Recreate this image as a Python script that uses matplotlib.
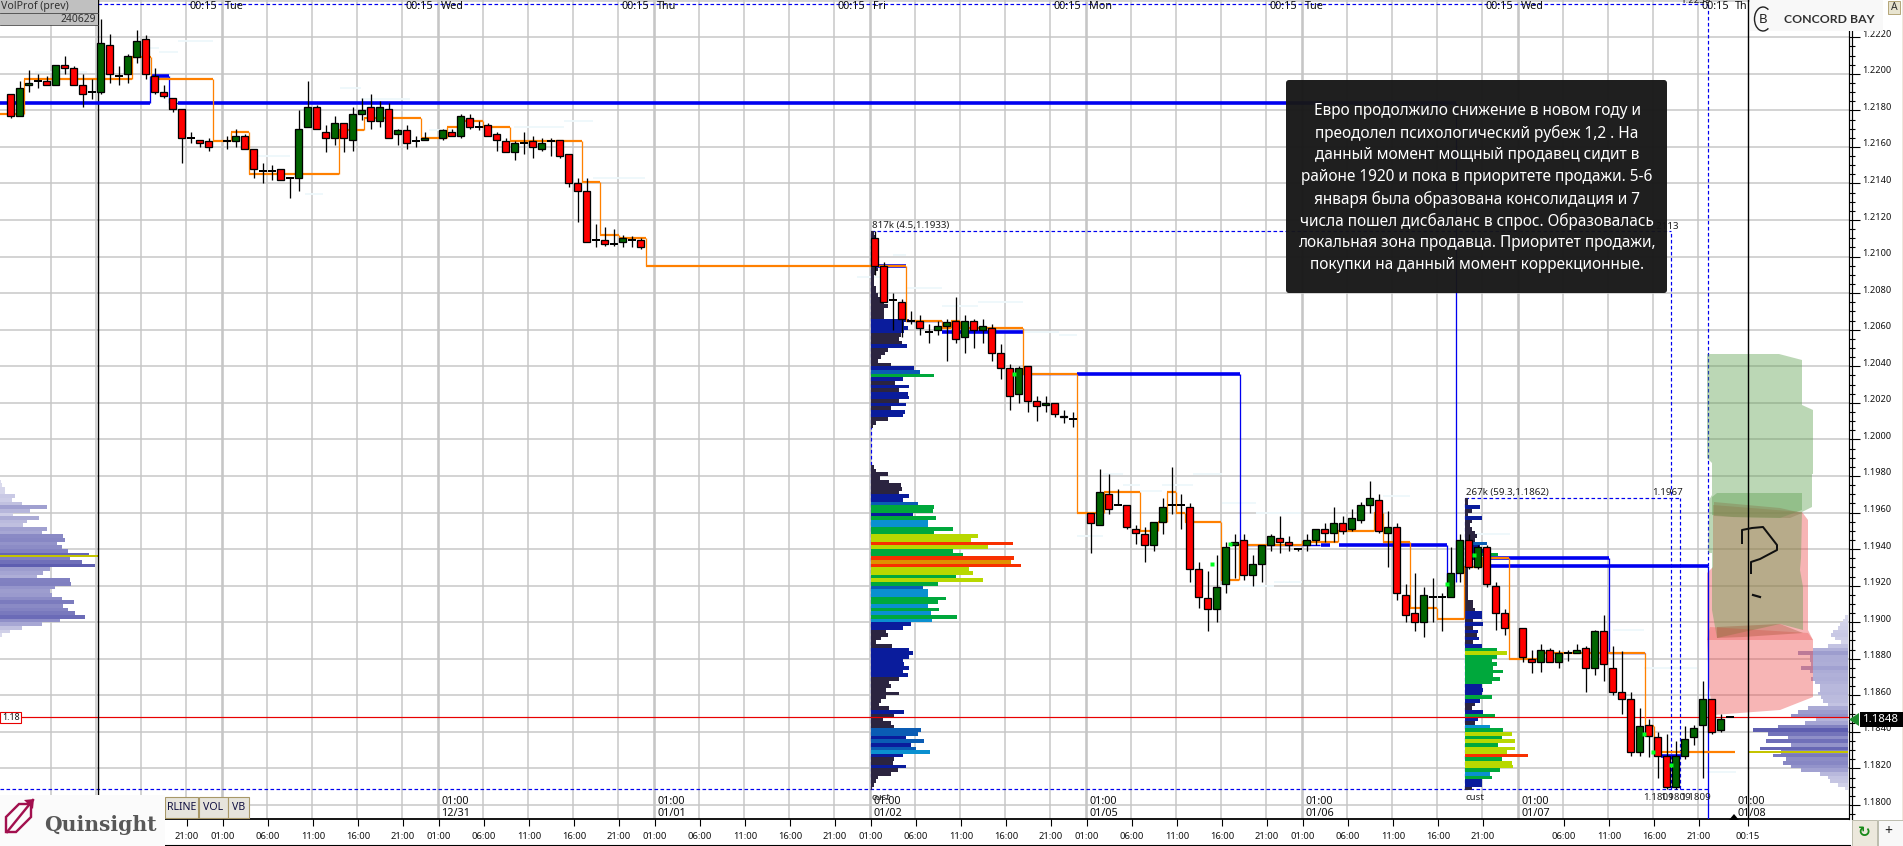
import numpy as np
import matplotlib
matplotlib.use("Agg")
import matplotlib.pyplot as plt
from matplotlib.patches import Polygon, Rectangle, FancyBboxPatch, Arc
from matplotlib.lines import Line2D
from matplotlib.transforms import Affine2D, ScaledTranslation
from matplotlib.ticker import FixedLocator, NullFormatter
from matplotlib.colors import LinearSegmentedColormap

plt.rcParams['font.family'] = ['Noto Sans', 'DejaVu Sans']

# ---------- data: hourly candles (open, high, low, close) in 1/10000 of a price point ----------
session_a_start = 0
session_a = [
 (12189,12189,12176,12177),(12177,12196,12177,12192),(12194,12202,12190,12195),(12196,12200,12192,12196),
 (12196,12199,12194,12194),(12194,12205,12194,12205),(12205,12210,12200,12203),(12203,12204,12194,12194),
 (12194,12200,12182,12189),(12190,12197,12186,12190),(12190,12230,12189,12217),(12216,12222,12195,12200),
 (12199,12204,12194,12199),(12200,12211,12195,12210),(12209,12224,12206,12218),(12219,12221,12197,12200),
 (12199,12203,12189,12190),(12190,12194,12187,12188),(12187,12187,12179,12181),(12181,12181,12151,12165),
 (12165,12168,12162,12165),(12164,12164,12160,12162),(12163,12165,12158,12160),None,
 (12163,12166,12159,12163),(12163,12170,12160,12166),(12166,12167,12159,12159),(12159,12159,12143,12148),
 (12147,12151,12140,12147),(12147,12150,12142,12147),(12148,12148,12142,12142),(12143,12143,12132,12143),
 (12143,12180,12136,12170),(12171,12196,12171,12182),(12182,12183,12170,12170),(12168,12172,12157,12165),
 (12165,12177,12161,12173),(12173,12173,12157,12165),(12164,12182,12158,12178),(12178,12187,12175,12180),
 (12182,12189,12170,12174),(12174,12185,12171,12182),(12181,12184,12165,12165),(12167,12170,12161,12169),
 (12169,12172,12159,12162),(12163,12166,12160,12163),(12164,12168,12164,12165),None,
 (12165,12170,12164,12169),(12168,12170,12166,12166),(12166,12178,12165,12177),(12176,12178,12170,12171),
 (12171,12174,12169,12171),(12172,12173,12166,12166),(12167,12168,12158,12164),(12163,12165,12157,12157),
 (12157,12163,12153,12162),(12162,12168,12156,12162),(12163,12166,12154,12160),(12159,12165,12158,12162),
 (12163,12165,12155,12163),(12164,12164,12154,12155),(12156,12156,12138,12140),(12140,12143,12119,12136),
 (12136,12143,12108,12108),(12109,12118,12105,12109),(12109,12116,12106,12107),(12107,12115,12106,12107),
 (12108,12112,12105,12110),(12109,12111,12105,12109),(12109,12110,12104,12105),
]
session_b_start = 96
session_b = [
 (12110,12114,12090,12095),(12095,12097,12075,12075),(12076,12080,12060,12076),(12075,12077,12056,12066),
 (12065,12070,12063,12065),(12065,12068,12057,12061),(12059,12063,12053,12059),(12060,12065,12057,12062),
 (12062,12066,12043,12064),(12065,12078,12053,12055),(12056,12068,12047,12065),(12065,12066,12050,12060),
 (12060,12066,12053,12062),(12061,12063,12043,12047),(12047,12052,12033,12039),(12039,12041,12016,12024),
 (12025,12040,12020,12039),(12040,12040,12015,12021),(12021,12024,12010,12018),(12019,12024,12015,12020),
 (12020,12020,12012,12014),(12013,12016,12009,12012),(12011,12015,12007,12011),
]
session_c_start = 120
session_c = [
 (11960,11960,11938,11954),(11953,11984,11953,11971),(11970,11981,11959,11962),(11964,11973,11964,11964),
 (11964,11964,11951,11952),(11951,11953,11943,11949),(11948,11952,11933,11942),(11942,11955,11939,11955),
 (11955,11968,11948,11963),(11964,11985,11959,11964),(11964,11970,11951,11964),(11963,11965,11922,11929),
 (11929,11933,11908,11914),(11913,11928,11895,11907),(11907,11937,11900,11919),(11921,11944,11916,11941),
 (11942,11948,11924,11944),(11945,11948,11923,11926),(11926,11937,11920,11932),(11932,11942,11922,11942),
 (11942,11948,11939,11947),(11946,11958,11938,11944),(11944,11947,11939,11942),(11940,11940,11939,11940),
 (11942,11948,11939,11945),(11945,11951,11942,11951),(11951,11954,11944,11949),(11949,11963,11944,11954),
 (11954,11958,11948,11950),(11951,11962,11950,11957),(11956,11966,11954,11964),(11964,11977,11960,11968),
 (11967,11970,11949,11950),(11949,11961,11930,11952),(11952,11954,11912,11916),(11915,11921,11900,11904),
 (11905,11927,11895,11900),(11900,11919,11892,11915),(11914,11924,11900,11914),(11914,11916,11895,11914),
 (11914,11941,11914,11927),(11927,11948,11922,11945),(11945,11948,11929,11930),(11930,11942,11929,11941),
 (11941,11942,11919,11921),(11920,11922,11896,11905),(11905,11907,11893,11897),
]
session_d_start = 168
session_d = [
 (11897,11897,11878,11881),(11880,11885,11872,11878),(11878,11888,11873,11885),(11885,11886,11878,11878),
 (11878,11885,11875,11883),(11883,11885,11879,11883),(11883,11888,11883,11885),(11886,11887,11862,11875),
 (11875,11896,11871,11895),(11895,11904,11868,11877),(11875,11887,11860,11862),(11862,11884,11850,11858),
 (11858,11862,11827,11829),(11829,11853,11827,11843),(11844,11847,11826,11838),(11837,11840,11815,11827),
 (11827,11839,11809,11810),(11810,11835,11809,11827),(11827,11843,11825,11836),(11837,11844,11833,11842),
 (11844,11868,11815,11858),(11858,11858,11839,11840),(11841,11850,11840,11847),(11848,11848,11848,11848),
]

# developing point-of-control step line: bar index where each level begins, and its price
poc_breaks = [-1.2,1.5,13.5,15.6,22.5,24.5,26.5,36.5,39.2,45.6,48.5,50,52.5,55.5,63.5,65.5,67.6,70.6,99.5,
              103.5,104.5,105.5,112.5,118.5,121.5,125.5,127.5,128.5,129.5,130.5,134.5,136.5,143.5,147.5,
              151.5,152.5,155.5,158.5,161.5,163.5,166.5,170,181.6,182.6,191.6]
poc_levels = [12178,12197,12209,12197,12163,12168,12145,12169,12176,12165,12171,12174,12171,12163,12141,
              12112,12110,12095,12065,12061,12065,12061,12036,11960,11971,11950,11955,11971,11960,11955,
              11923,11942,11944,11950,11960,11944,11908,11902,11930,11935,11880,11883,11843,11829]

# naked POC levels: (start bar, end bar, price, heavy?)
naked_levels = [
 (-1.2,15.5,12184,1),(15.6,17.6,12199,1),(17.6,18.6,12184,0),(18.6,160.6,12184,1),
 (96,99.5,12095,1),(99.5,103.5,12065,0),(103.5,112.5,12059,1),(112.5,118.5,12036,0),(118.5,136.6,12036,1),
 (137.3,145.5,11942,0),(145.6,146.6,11942,1),(147.6,159.6,11942,1),
 (164.3,177.6,11935,1),(177.6,181.6,11883,0),(164.3,188.6,11931,1),(183.4,185.6,11827,1),
]
naked_drops = [(15.5,12184,12199),(17.6,12199,12184),(160.6,12184,11922),(136.6,12036,11943),
               (159.6,11942,11921),(177.6,11935,11883),(188.6,11931,11792)]

# faint band segments: (start bar, end bar, price)
band_segments = [
 (2.7,8.5,12201),(15.4,16.5,12214),(16.5,18.6,12212),(18.6,22.5,12218),(27.4,31,12155),(32.7,34.7,12134),
 (36.6,38.9,12192),(38.9,44.4,12186),(46.5,49,12169),(55.9,61.5,12171),(61.5,64.7,12174),(64.7,70.5,12143),
 (94,97,12089),(98,99.5,12101),(99.5,103.5,12083),(103.5,107.5,12073),(107.5,112.5,12075),(112.5,116.5,12059),
 (116.5,118.5,12057),(118.5,121.4,11947),(121.4,123.6,11981),(123.6,125.5,11975),(125.5,127.9,11972),
 (127.9,131.4,11975),(131.4,134.6,11981),(134.6,138.4,11965),(138.4,143.4,11960),(134.4,140.3,11920),
 (140.3,143.5,11922),(152.5,155.5,11969),(162.5,166.6,11948),(178,181.5,11896),(181.5,187.4,11875),(188.5,191.7,11818),
]

# volume profiles: top price of first row, 2-point rows downward, volume units
prof1a_top = 12113
prof1a = [10,12,12,8,8,10,10,8,12,18,20,15,8,8,10,15,15,22,30,38,50,40,38,40,115,100,110,100,90,85,92,108,52,42,30,22,
          60,130,148,190,95,72,115,85,110,115,85,105,60,102,95,50,15,5]
prof1b_top = 11985
prof1b = [8,15,50,28,55,90,92,85,115,95,140,190,185,125,195,170,170,245,190,320,300,425,350,245,275,430,420,450,295,305,
          255,335,200,155,170,170,225,200,170,205,180,258,183,120,95,45,50,30,15,62,115,125,115,95,100,115,95,112,85,55,
          60,45,85,45,30,25,55,98,70,35,60,70,150,140,105,160,120,135,178,95,70,65,105,80,60,20,15,8,3]
prof2_top = 11967
prof2 = [10,10,45,20,10,50,20,15,20,30,35,30,65,45,55,100,40,15,10,10,8,8,8,8,8,8,8,8,25,25,30,50,50,25,55,25,40,35,42,25,
         50,95,125,95,80,95,85,115,85,105,80,50,55,50,80,45,30,20,55,90,40,30,75,115,140,110,150,100,150,125,190,110,140,
         145,105,75,80,50,50,20]
prev_top = 11977
prev_profile = [2,5,15,15,45,35,65,142,90,40,118,82,70,142,125,190,195,170,185,205,268,210,245,285,150,130,110,210,212,
                165,150,155,185,222,190,205,225,255,180,125,65,30,5]
cur_top = 11903
cur_profile = [10,15,25,30,45,50,40,20,60,105,150,115,115,110,140,115,105,110,100,85,85,90,80,75,60,120,150,170,95,130,
               210,285,240,180,245,170,265,200,225,185,195,170,140,85,60,55,30,10]
prev_poc = 11936
cur_poc = 11829

# small imbalance markers (bar, price)
marks_bar = [111.5,133.5,135.5,159.6,162.6,181.5,182.5,184.5]
marks_price = [12036,11932,11943,11921,11937,11839,11829,11822]

last_price = 11848
price_ticks = list(range(11800, 12221, 20))
day_dates = ['12/31','01/01','01/02','01/05','01/06','01/07','01/08']
hours = ['01:00','06:00','11:00','16:00','21:00']

note_lines = ["Евро продолжило снижение в новом году и",
              "преодолел психологический рубеж 1,2 . На",
              "данный момент мощный продавец сидит в",
              "районе 1920 и пока в приоритете продажи. 5-6",
              "января была образована консолидация и 7",
              "числа пошел дисбаланс в спрос. Образовалась",
              "локальная зона продавца. Приоритет продажи,",
              "покупки на данный момент коррекционные."]

# ---------- layout ----------
W, H = 1903, 846
BAR0, BARW = 10.8, 9.0
PX_PER_PT = 18280 / 1e4   # pixels per 1/10000
def idx(px): return (px - BAR0) / BARW
def yp(y): return 11800 + (805 - y) / PX_PER_PT

PX = Affine2D().scale(1, -1).translate(0, H)   # figure pixels, y down
px = 0.72  # one pixel in points at dpi 100

fig = plt.figure(figsize=(W/100, H/100), dpi=100, facecolor='white')
ax = fig.add_axes([0, (H-819)/H, 1849/W, 819/H])
ax.set_xlim(idx(0), idx(1849))
ax.set_ylim(yp(819), yp(0))
ax.set_facecolor('white')

GRID = '#c6c6c6'
for p in list(range(11800, 12241, 20)):
    ax.axhline(p, color=GRID, lw=1.5*px, zorder=1)
for T in [6+216*k for k in range(8)]:
    if T > 6:
        ax.axvline(idx(T), color=GRID, lw=2.6*px, zorder=1)
    for d in (45, 90, 135, 180):
        if T + d < 1849:
            ax.axvline(idx(T+d), color=GRID, lw=1.5*px, zorder=1)

# faint bands
for a, b, p in band_segments:
    ax.hlines(p, a, b, color='#eef8fb', lw=1.8*px, zorder=1.5)

# dashed frames
dash = (0, (3, 2))
BL = '#0000f0'
for a, b, p in [(idx(98),188.6,12238),(idx(0),188.6,11809),(95.6,184.5,12114),(161.6,185.5,11968)]:
    ax.hlines(p, a, b, color=BL, lw=px*1.2, linestyles=[dash], zorder=2)
for x, a, b in [(188.6,12238,11931),(95.6,12114,11809),(184.5,12114,11809),(161.6,11968,11809),(185.5,11968,11809)]:
    ax.vlines(x, b, a, color=BL, lw=px*1.2, linestyles=[dash], zorder=2)

# profiles
steps = [0.21,0.29,0.36,0.41,0.63,0.87,0.94]
cols = ['#2b2440','#0a1c9c','#0a5cb4','#0a90d0','#00a83c','#b8d800','#e09000','#f83000']
def heat(v, vmax):
    r = v / vmax
    for s, c in zip(steps, cols):
        if r < s:
            return c
    return cols[-1]
unit = 1 / 3 / BARW
def draw_heat(top, vols, left, vmax):
    ys = top - 2*np.arange(len(vols))
    ax.barh(ys, np.array(vols)*unit, left=left, height=2.0, color=[heat(v, vmax) for v in vols],
            edgecolor='none', zorder=3)
draw_heat(prof1a_top, prof1a, idx(871), 450)
draw_heat(prof1b_top, prof1b, idx(871), 450)
draw_heat(prof2_top, prof2, idx(1465), 190)

lav = LinearSegmentedColormap.from_list('lav', ['#dcdcee', '#a0a0d0', '#5e5eb0'])
def draw_lav(top, vols, left, sign):
    ys = top - 2*np.arange(len(vols))
    v = np.array(vols, float)
    ax.barh(ys, sign*v*unit, left=left, height=2.0, color=lav(v/v.max()), edgecolor='none', zorder=3)
draw_lav(prev_top, prev_profile, idx(0), 1)

# painted zones (pink, then green above it), drawn under the candles
def zone(points, color, alpha, z=3.5):
    ax.add_patch(Polygon(points, closed=True, transform=PX, facecolor=color, edgecolor='none', alpha=alpha, zorder=z))
zone([(1713,505),(1802,512),(1808,520),(1808,630),(1813,640),(1813,697),(1780,710),(1713,715),(1709,687),(1707,640),
      (1707,573),(1713,567)], (235/255,70/255,70/255), 0.40)
draw_lav(cur_top, cur_profile, idx(1848), -1)
ax.hlines(prev_poc, idx(0), idx(98), color='#c4c400', lw=2*px, zorder=3.6)
ax.hlines(cur_poc, idx(1749), idx(1848), color='#c4c400', lw=2*px, zorder=3.6)
zone([(1707,354),(1779,354),(1802,360),(1802,405),(1813,410),(1813,474),(1812,474),(1812,507),(1802,512),(1801,558),
      (1800,570),(1803,587),(1803,630),(1780,624),(1717,638),(1712,610),(1712,553),(1708,553),(1709,513),(1709,500),
      (1712,495),(1712,463),(1707,458)], (92/255,158/255,77/255), 0.41)
zone([(1712,497),(1717,493),(1802,493),(1802,510),(1780,518),(1733,517),(1712,515)], (92/255,158/255,77/255), 0.41)
zone([(1714,502),(1747,505),(1780,508),(1802,513),(1790,518),(1733,517),(1714,516)], '#8a7a50', 0.40)
zone([(1710,627),(1808,633),(1813,640),(1707,640)], (235/255,70/255,70/255), 0.30)
zone([(1717,627),(1780,624),(1803,633),(1743,637),(1717,638)], '#a05030', 0.35)

# price line
ax.axhline(last_price, color='#e80000', lw=1.2*px, zorder=3.8)

# vertical session markers
for x in (98, 1748):
    ax.axvline(idx(x), color='black', lw=1.4*px, zorder=3.9)

# naked levels
for a, b, p, heavy in naked_levels:
    ax.hlines(p, a, b, color='#0000f0', lw=(3.6 if heavy else 1.4)*px, zorder=4)
for x, a, b in naked_drops:
    ax.vlines(x, min(a, b), max(a, b), color='#0000f0', lw=1.3*px, zorder=4)

# POC step line: heavy levels, light risers
ob = np.array(poc_breaks); ol = np.array(poc_levels)
ax.hlines(ol, ob[:-1], ob[1:], color='#ff8000', lw=2.2*px, zorder=4.2)
ax.vlines(ob[1:-1], np.minimum(ol[:-1], ol[1:]), np.maximum(ol[:-1], ol[1:]), color='#ff8000', lw=1.3*px, zorder=4.2)

# candles
def draw_candles(start, rows):
    for i, row in enumerate(rows):
        if row is None:
            continue
        o, h, l, c = row
        x = start + i
        ax.vlines(x, l, h, color='black', lw=1.3*px, zorder=5)
        if o == c:
            ax.hlines(c, x-0.42, x+0.42, color='black', lw=2.0*px, zorder=5.2)
        else:
            ax.bar(x, abs(c-o), bottom=min(o, c), width=0.78, color='#ff0000' if c < o else '#006400',
                   edgecolor='black', linewidth=1.3*px, zorder=5.1)
for s, rows in [(session_a_start, session_a), (session_b_start, session_b),
                (session_c_start, session_c), (session_d_start, session_d)]:
    draw_candles(s, rows)
ax.plot(marks_bar, marks_price, ls='none', marker='s', ms=3.2, color='#00ff20', mec='none', zorder=5.5)

# scribbled question mark
scribble = [(1742,543),(1742,530),(1752,528),(1763,527),(1777,545),(1777,550),(1760,559),(1751,562),(1751,573)]
ax.add_line(Line2D(*zip(*scribble), transform=PX, color='#101010', lw=2.0*px, zorder=6))
ax.add_line(Line2D([1753,1760],[595,597], transform=PX, color='#101010', lw=2.2*px, zorder=6))

# axes furniture
ax.yaxis.tick_right()
ax.set_yticks(price_ticks)
ax.set_yticklabels([f"{p/1e4:.4f}" for p in price_ticks], fontsize=6.6, color='#101010')
ax.yaxis.set_minor_locator(FixedLocator(list(range(11790, 12241, 5))))
ax.yaxis.set_minor_formatter(NullFormatter())
ax.tick_params(axis='y', which='major', length=11*px, width=1.1*px, pad=1.5, color='black')
ax.tick_params(axis='y', which='minor', length=6*px, width=1.1*px, color='black')
off = ScaledTranslation(0, 4/100, fig.dpi_scale_trans)
for lab in ax.get_yticklabels():
    lab.set_transform(lab.get_transform() + off)

tick_pos, tick_lab = [], []
for k, T in enumerate([7+216*j for j in range(8)]):
    for h_, d in zip(hours, (0, 45, 90, 135, 180)):
        if T + d < 150 or (k == 7 and d == 0):
            continue            # hidden below the logo, or replaced by the 00:15 session tick
        if T + d < 1845:
            tick_pos.append(idx(T+d)); tick_lab.append(h_)
tick_pos.append(idx(1748)); tick_lab.append('00:15')
ax.set_xticks(tick_pos)
ax.set_xticklabels(tick_lab, fontsize=6.8, color='#101010')
ax.tick_params(axis='x', length=7*px, width=1.1*px, pad=4.5, color='black')
for s in ('top', 'left'):
    ax.spines[s].set_visible(False)
ax.spines['right'].set_linewidth(1.2*px)
ax.spines['bottom'].set_linewidth(1.8*px)

# ---------- chrome in pixel coordinates ----------
def ptext(x, y, s, **kw):
    kw.setdefault('va', 'center'); kw.setdefault('ha', 'left'); kw.setdefault('fontsize', 7.8)
    return fig.text(x, y, s, transform=PX, **kw)
def prect(x0, y0, x1, y1, z=4, **kw):
    r = Rectangle((x0, y0), x1-x0, y1-y0, transform=PX, zorder=z, **kw)
    fig.add_artist(r)
    return r

# second axis line and bottom frame
fig.add_artist(Line2D([1851.5,1851.5],[0,819], transform=PX, color='black', lw=1.2*px))
fig.add_artist(Line2D([137,1850],[845,845], transform=PX, color='black', lw=1.1*px))
fig.add_artist(Line2D([1902.5,1902.5],[0,846], transform=PX, color='#b08858', lw=1.4*px))

# top labels
for x, d in zip((190,405.5,622,838,1054,1270,1486,1702), ('Tue','Wed','Thu','Fri','Mon','Tue','Wed','Thu')):
    ptext(x, 6.5, '00:15', color='#101010')
    if d == 'Thu' and x > 1700:
        ptext(x+33, 6.5, 'Th', color='#101010')
    else:
        ptext(x+35, 6.5, d, color='#101010')
# date labels
for T, d in zip((438,654,870,1086,1302,1518,1734), day_dates):
    ptext(T+3, 801, '01:00', fontsize=7.8, color='#101010')
    ptext(T+3, 813, d, fontsize=7.8, color='#101010')

# profile notes
ptext(872, 225.5, '817k (4.5,1.1933)', fontsize=7.0, color='#202020')
ptext(1466, 492, '267k (59.3,1.1862)', fontsize=7.0, color='#202020')
ptext(1652, 492, '1.1967', fontsize=7.0, color='#202020')
ptext(1466, 797, 'cust', fontsize=7.0, color='#202020')
ptext(872, 797, 'cust', fontsize=7.0, color='#202020')
for x in (1643, 1660, 1680):
    ptext(x, 797, '1.1809', fontsize=7.0, color='#202020')
ptext(1648, 226, '1.2113', fontsize=7.0, color='#202020', zorder=1)
ptext(1680, 0, '1.2239', fontsize=7.0, color='#202020', zorder=1)

# top-left widget
prect(0, 0, 98, 25, facecolor='#c0c0c0', edgecolor='none')
fig.add_artist(Line2D([0,98],[12.7,12.7], transform=PX, color='#404040', lw=0.8*px, zorder=4.5))
fig.add_artist(Line2D([0,98],[25,25], transform=PX, color='#404040', lw=0.8*px, zorder=4.5))
ptext(1, 6.5, 'VolProf (prev)', fontsize=7.6, color='#303030', zorder=5)
ptext(96, 19, '240629', ha='right', fontsize=7.4, color='#303030', zorder=5)

# red price tag at left
prect(0, 712, 21, 722.5, facecolor='white', edgecolor='#e80000', linewidth=1.1*px, z=4.5)
ptext(2, 717.5, '1.18', fontsize=6.4, color='#101010', zorder=5)

# note box
box = FancyBboxPatch((1286, 80), 381, 213, boxstyle='round,pad=0,rounding_size=3', transform=PX,
                     facecolor='#161616', edgecolor='none', alpha=0.96, zorder=4)
fig.add_artist(box)
for k, line in enumerate(note_lines):
    ptext(1477, 111+22*k, line, ha='center', fontsize=11.1, color='white', zorder=5)

# Concord Bay
prect(1750, 0, 1883, 31, facecolor='#f8f8f8', edgecolor='none')
fig.add_artist(Arc((1763,19), 17, 24, theta1=60, theta2=300, transform=PX, color='#222222', lw=1.4*px, zorder=5))
ptext(1763, 19, 'B', fontsize=9.5, ha='center', color='#222222', zorder=5)
ptext(1784, 19, 'CONCORD BAY', family=['Lato','DejaVu Sans'], fontweight='bold', fontsize=8.8, color='#303030', zorder=5)
prect(1888, 1, 1900, 14, facecolor='#e8e4d0', edgecolor='#b0a070', linewidth=0.9*px)
ptext(1894, 7.5, 'A', ha='center', fontsize=7.5, color='#303030', zorder=5)

# last price tag
prect(1860, 712, 1903, 727, facecolor='black', edgecolor='none', z=5)
ptext(1863, 719.5, '1.1848', color='white', fontsize=8.2, zorder=6)
fig.add_artist(Polygon([(1849,719.5),(1859,713),(1859,726)], transform=PX, facecolor='#1c8a2c', edgecolor='none', zorder=5))
fig.add_artist(Polygon([(1729,820),(1734,814),(1739,820)], transform=PX, facecolor='black', edgecolor='none', zorder=5))

# bottom-right buttons
prect(1852, 820, 1877, 846, facecolor='#ece8dc', edgecolor='#b8b8a8', linewidth=0.9*px)
prect(1878, 820, 1903, 846, facecolor='#f8f8f8', edgecolor='#b8b8a8', linewidth=0.9*px)
ptext(1864.5, 832, '\u21bb', ha='center', fontsize=11, family=['DejaVu Sans'], fontweight='bold', color='#1a8a1a', zorder=5)
ptext(1888, 831, '+', ha='center', fontsize=10, color='#202020', zorder=5)

# tab buttons
for x0, x1, s in ((165,198,'RLINE'),(199,228,'VOL'),(228,249,'VB')):
    prect(x0, 797, x1, 818, facecolor='#e6e4dc', edgecolor='#a89868', linewidth=1.1*px, z=4)
    ptext((x0+x1)/2, 807.5, s, ha='center', fontsize=7.6, color='#101040', zorder=5)

# Quinsight logo
prect(0, 795, 165, 846, facecolor='#fbfbfb', edgecolor='none', z=4.2)
M = '#a2104e'
fig.add_artist(Polygon([(6,817),(19,804),(31,804),(31,817),(16,832),(6,832)], closed=True, transform=PX,
                       facecolor='none', edgecolor=M, linewidth=2.4*px, zorder=5))
fig.add_artist(Line2D([7,33],[832,800], transform=PX, color=M, lw=2.4*px, zorder=5))
fig.add_artist(Polygon([(24,800),(34,799),(33,809)], transform=PX, facecolor=M, edgecolor='none', zorder=5))
ptext(44, 825, 'Quinsight', family=['DejaVu Serif'], fontweight='bold', fontsize=14.6, color='#585858', zorder=5)

fig.savefig('out.png', dpi=100, facecolor='white')
